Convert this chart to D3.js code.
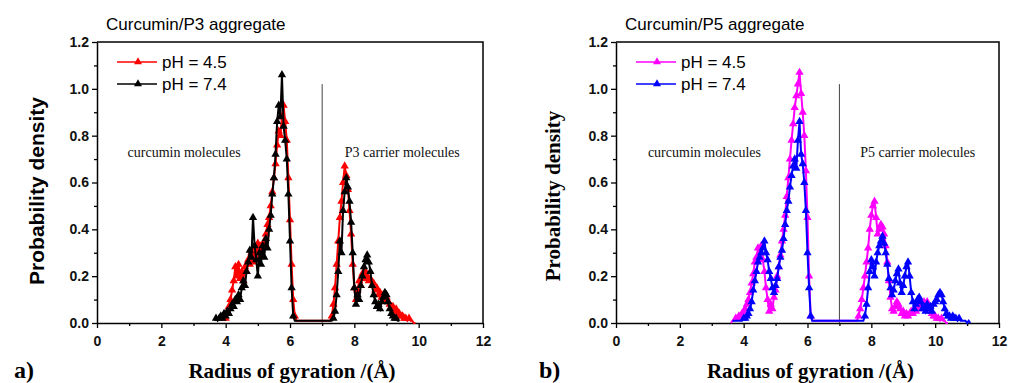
<!doctype html>
<html>
<head>
    <meta charset="UTF-8">
    <title>Radius of gyration</title>
    <script src="https://d3js.org/d3.v7.min.js"></script>
    <style>
        body { margin: 0; background: #fff; }
    </style>
</head>
<body>
    <script>
        // sampling step of all series (Å)
        var step = 0.05;

        // panel a) Curcumin/P3, pH 4.5 (red)
        var p3Acid = {
            curcStart: 3.95,
            curc: [0.01, 0.02, 0.04, 0.07, 0.10, 0.14, 0.18, 0.24, 0.20, 0.25, 0.19, 0.22, 0.18, 0.24, 0.22, 0.27,
                0.25, 0.30, 0.26, 0.32, 0.28, 0.34, 0.30, 0.33, 0.29, 0.35, 0.38, 0.42, 0.45, 0.50, 0.56, 0.62,
                0.68, 0.76, 0.82, 0.80, 0.88, 0.93, 0.86, 0.78, 0.62, 0.44, 0.25, 0.10, 0.03, 0.01, 0.01],
            carrStart: 7.25,
            carr: [0.01, 0.03, 0.08, 0.15, 0.25, 0.35, 0.45, 0.52, 0.60, 0.67, 0.63, 0.57, 0.48, 0.38, 0.25, 0.15,
                0.10, 0.14, 0.18, 0.16, 0.21, 0.19, 0.22, 0.20, 0.18, 0.19, 0.16, 0.17, 0.14, 0.15, 0.12, 0.13,
                0.11, 0.12, 0.10, 0.11, 0.09, 0.08, 0.07, 0.07, 0.05, 0.06, 0.04, 0.04, 0.03, 0.03, 0.02, 0.02,
                0.01, 0.02, 0.01, 0.01, 0.00, 0.00]
        };

        // panel a) Curcumin/P3, pH 7.4 (black)
        var p3Neutral = {
            curcStart: 3.65,
            curc: [0.01, 0.02, 0.01, 0.02, 0.03, 0.02, 0.04, 0.03, 0.05, 0.04, 0.06, 0.08, 0.07, 0.10, 0.09, 0.12,
                0.10, 0.15, 0.18, 0.16, 0.22, 0.26, 0.31, 0.28, 0.45, 0.33, 0.27, 0.20, 0.30, 0.25, 0.33, 0.28,
                0.36, 0.32, 0.40, 0.46, 0.55, 0.62, 0.72, 0.86, 0.93, 0.88, 1.06, 0.84, 0.78, 0.70, 0.55, 0.35,
                0.15, 0.03, 0.01],
            carrStart: 7.30,
            carr: [0.01, 0.02, 0.05, 0.12, 0.22, 0.35, 0.30, 0.48, 0.56, 0.62, 0.58, 0.52, 0.43, 0.30, 0.15, 0.08,
                0.12, 0.10, 0.16, 0.20, 0.24, 0.27, 0.29, 0.26, 0.22, 0.16, 0.12, 0.09, 0.07, 0.08, 0.06, 0.09,
                0.11, 0.13, 0.12, 0.09, 0.06, 0.04, 0.03, 0.02, 0.02, 0.01, 0.01]
        };

        // panel b) Curcumin/P5, pH 4.5 (magenta)
        var p5Acid = {
            curcStart: 3.60,
            curc: [0.00, 0.01, 0.01, 0.02, 0.02, 0.03, 0.03, 0.04, 0.05, 0.06, 0.08, 0.10, 0.13, 0.17, 0.21, 0.26,
                0.28, 0.32, 0.30, 0.33, 0.27, 0.22, 0.15, 0.10, 0.05, 0.08, 0.06, 0.11, 0.14, 0.20, 0.24, 0.29,
                0.35, 0.40, 0.46, 0.54, 0.62, 0.70, 0.78, 0.85, 0.92, 0.97, 1.02, 1.07, 0.98, 0.90, 0.80, 0.65,
                0.45, 0.20, 0.03, 0.01],
            carrStart: 7.55,
            carr: [0.01, 0.03, 0.06, 0.10, 0.15, 0.20, 0.26, 0.32, 0.40, 0.46, 0.50, 0.52, 0.45, 0.38, 0.40, 0.42,
                0.41, 0.38, 0.33, 0.26, 0.18, 0.11, 0.06, 0.05, 0.07, 0.09, 0.08, 0.06, 0.04, 0.05, 0.03, 0.04,
                0.03, 0.04, 0.05, 0.04, 0.06, 0.05, 0.07, 0.06, 0.08, 0.07, 0.09, 0.08, 0.09, 0.07, 0.05, 0.04,
                0.03, 0.03, 0.02, 0.02, 0.01, 0.02, 0.01, 0.01, 0.00, 0.00]
        };

        // panel b) Curcumin/P5, pH 7.4 (blue)
        var p5Neutral = {
            curcStart: 3.65,
            curc: [0.01, 0.01, 0.01, 0.01, 0.01, 0.01, 0.01, 0.02, 0.02, 0.03, 0.04, 0.06, 0.09, 0.14, 0.18, 0.22,
                0.26, 0.28, 0.30, 0.32, 0.35, 0.30, 0.27, 0.22, 0.19, 0.15, 0.13, 0.16, 0.19, 0.24, 0.28, 0.31,
                0.36, 0.42, 0.48, 0.52, 0.58, 0.63, 0.67, 0.70, 0.66, 0.78, 0.86, 0.72, 0.68, 0.60, 0.48, 0.30,
                0.15, 0.03, 0.01],
            carrStart: 7.75,
            carr: [0.01, 0.03, 0.08, 0.15, 0.22, 0.27, 0.24, 0.20, 0.26, 0.30, 0.33, 0.35, 0.37, 0.34, 0.30, 0.25,
                0.19, 0.15, 0.12, 0.14, 0.18, 0.21, 0.23, 0.17, 0.13, 0.16, 0.20, 0.24, 0.26, 0.20, 0.13, 0.09,
                0.06, 0.08, 0.10, 0.11, 0.09, 0.06, 0.07, 0.05, 0.08, 0.06, 0.07, 0.05, 0.08, 0.09, 0.10, 0.12,
                0.13, 0.12, 0.09, 0.06, 0.04, 0.03, 0.03, 0.02, 0.03, 0.02, 0.02, 0.01, 0.02, 0.01, 0.01, 0.01,
                0.01, 0.00, 0.01, 0.00]
        };

        var xTicks = [0, 2, 4, 6, 8, 10, 12];
        var yTicks = [0, 0.2, 0.4, 0.6, 0.8, 1.0, 1.2];
        var legendLabels = ["pH = 4.5", "pH = 7.4"];

        var width = 1019;
        var height = 383;

        var svg = d3.select("body").append("svg")
            .attr("width", width)
            .attr("height", height)
            .style("background", "#fff");

        function toPoints(s) {
            var pts = [];
            s.curc.forEach(function (v, i) { pts.push([s.curcStart + i * step, v]); });
            s.carr.forEach(function (v, i) { pts.push([s.carrStart + i * step, v]); });
            return pts;
        }

        function drawPanel(cfg) {
            var x = d3.scaleLinear().domain([0, 12]).range([cfg.left, cfg.right]);
            var y = d3.scaleLinear().domain([0, 1.2]).range([323, 42]);
            var g = svg.append("g");

            // minor ticks
            g.append("g")
                .attr("transform", "translate(0,323)")
                .call(d3.axisBottom(x).tickValues(d3.range(1, 12, 2)).tickSize(3).tickFormat(""))
                .call(function (a) { a.select(".domain").remove(); });
            g.append("g")
                .attr("transform", "translate(" + cfg.left + ",0)")
                .call(d3.axisLeft(y).tickValues(d3.range(0.1, 1.2, 0.2)).tickSize(3).tickFormat(""))
                .call(function (a) { a.select(".domain").remove(); });

            // main axes
            var xa = g.append("g")
                .attr("transform", "translate(0,323)")
                .call(d3.axisBottom(x).tickValues(xTicks).tickSize(5).tickSizeOuter(0).tickPadding(8).tickFormat(d3.format("d")));
            var ya = g.append("g")
                .attr("transform", "translate(" + cfg.left + ",0)")
                .call(d3.axisLeft(y).tickValues(yTicks).tickSize(5).tickSizeOuter(0).tickPadding(3).tickFormat(d3.format(".1f")));
            [xa, ya].forEach(function (a) {
                a.selectAll("path, line").attr("stroke", "#000").attr("stroke-width", 1.5);
                a.selectAll("text")
                    .attr("fill", "#111")
                    .style("font-family", "Arial, 'Liberation Sans', sans-serif")
                    .style("font-weight", "bold")
                    .style("font-size", "14px");
            });
            g.selectAll("line").attr("stroke", "#000").attr("stroke-width", 1.3);

            // top and right frame
            g.append("path")
                .attr("d", "M" + cfg.left + ",42H" + cfg.right + "V323")
                .attr("fill", "none").attr("stroke", "#000").attr("stroke-width", 1.5);

            // divider at 7 Å
            g.append("line")
                .attr("x1", x(7)).attr("x2", x(7))
                .attr("y1", y(1.02)).attr("y2", y(0))
                .attr("stroke", "#444").attr("stroke-width", 1);

            var line = d3.line().x(function (d) { return x(d[0]); }).y(function (d) { return y(d[1]); });
            var tri = d3.symbol().type(d3.symbolTriangle).size(30);

            cfg.series.forEach(function (s, k) {
                var pts = toPoints(s.data);
                g.append("path")
                    .datum(pts)
                    .attr("d", line)
                    .attr("fill", "none")
                    .attr("stroke", s.color)
                    .attr("stroke-width", 2);
                g.append("g").selectAll("path")
                    .data(pts.filter(function (d) { return d[1] > 0.012; }))
                    .enter().append("path")
                    .attr("d", tri)
                    .attr("transform", function (d) { return "translate(" + x(d[0]) + "," + y(d[1]) + ")"; })
                    .attr("fill", s.color);

                // legend entry
                var ly = 62 + k * 22;
                var lx = cfg.left + 20;
                g.append("line")
                    .attr("x1", lx).attr("x2", lx + 40).attr("y1", ly).attr("y2", ly)
                    .attr("stroke", s.color).attr("stroke-width", 1.6);
                g.append("path")
                    .attr("d", d3.symbol().type(d3.symbolTriangle).size(28))
                    .attr("transform", "translate(" + (lx + 21) + "," + ly + ")")
                    .attr("fill", s.color);
                g.append("text")
                    .attr("x", lx + 45).attr("y", ly + 6)
                    .text(legendLabels[k])
                    .style("font-family", "Arial, 'Liberation Sans', sans-serif")
                    .style("font-size", "17px");
            });

            // title
            g.append("text")
                .attr("x", cfg.left + 9).attr("y", 30)
                .text(cfg.title)
                .style("font-family", "Arial, 'Liberation Sans', sans-serif")
                .style("font-size", "17px");

            // region labels
            g.append("text")
                .attr("x", x(cfg.curcLabelX)).attr("y", 157)
                .text("curcumin molecules")
                .attr("fill", "#111")
                .style("font-family", "'Liberation Serif', 'Times New Roman', serif")
                .style("font-size", "14px");
            g.append("text")
                .attr("x", x(cfg.carrLabelX)).attr("y", 157)
                .text(cfg.carrLabel)
                .attr("fill", "#111")
                .style("font-family", "'Liberation Serif', 'Times New Roman', serif")
                .style("font-size", "14px");

            // y axis title
            g.append("text")
                .attr("transform", "translate(" + cfg.yLabelX + "," + cfg.yLabelY + ") rotate(-90)")
                .attr("text-anchor", "middle")
                .text("Probability density")
                .style("font-family", cfg.yLabelFont)
                .style("font-weight", "bold")
                .style("font-size", "21px");

            // x axis title
            g.append("text")
                .attr("x", (cfg.left + cfg.right) / 2 + cfg.xLabelShift).attr("y", 378)
                .attr("text-anchor", "middle")
                .text("Radius of gyration /(\u00C5)")
                .style("font-family", "'Liberation Serif', 'Times New Roman', serif")
                .style("font-weight", "bold")
                .style("font-size", "21px");

            // panel letter
            g.append("text")
                .attr("x", cfg.letterX).attr("y", 378)
                .text(cfg.letter)
                .style("font-family", "'Liberation Serif', 'Times New Roman', serif")
                .style("font-weight", "bold")
                .style("font-size", "24px");
        }

        drawPanel({
            left: 97, right: 483,
            title: "Curcumin/P3 aggregate",
            series: [{ data: p3Acid, color: "#ff0000" }, { data: p3Neutral, color: "#000000" }],
            curcLabelX: 0.95, carrLabelX: 7.7, carrLabel: "P3 carrier molecules",
            yLabelX: 44, yLabelY: 191, yLabelFont: "Arial, 'Liberation Sans', sans-serif",
            xLabelShift: 2, letter: "a)", letterX: 14
        });

        drawPanel({
            left: 616, right: 999,
            title: "Curcumin/P5 aggregate",
            series: [{ data: p5Acid, color: "#ff00ff" }, { data: p5Neutral, color: "#0000ff" }],
            curcLabelX: 1.0, carrLabelX: 7.65, carrLabel: "P5 carrier molecules",
            yLabelX: 560, yLabelY: 196, yLabelFont: "'Liberation Serif', 'Times New Roman', serif",
            xLabelShift: 3, letter: "b)", letterX: 539
        });
    </script>
</body>
</html>
